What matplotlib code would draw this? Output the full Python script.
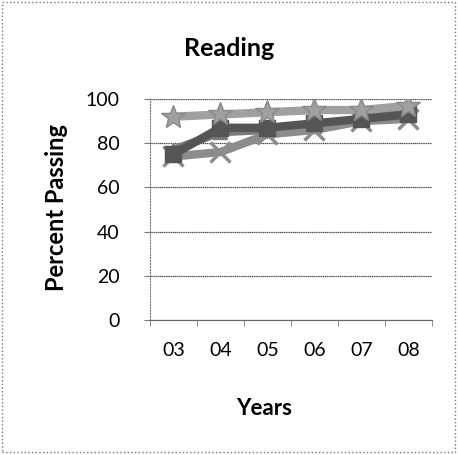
import matplotlib.pyplot as plt
from matplotlib.patches import Rectangle

plt.rcParams['font.family'] = ['Lato', 'DejaVu Sans']

years = ["03", "04", "05", "06", "07", "08"]
s_star = [92, 93, 94, 95, 95, 97]
s_square = [75, 87, 87, 89, 91, 93]
s_cross = [74, 76, 84, 86, 90, 91]
s_other = [77, 85, 86, 88, 91, 94]

fig = plt.figure(figsize=(4.58, 4.55), dpi=100)
ax = fig.add_axes([0.3275, 0.2967, 0.6157, 0.4857])

x = range(len(years))
ax.plot(x, s_other, color="#7a7a7a", linewidth=6, marker="^", markersize=10)
ax.plot(x, s_cross, color="#8c8c8c", linewidth=6, marker="x", markersize=14, markeredgewidth=2.5)
ax.plot(x, s_square, color="#555555", linewidth=6, marker="s", markersize=12)
ax.plot(x, s_star, color="#a0a0a0", linewidth=6, marker="*", markersize=18,
        markeredgecolor="#888888")

ax.set_xlim(-0.5, 5.5)
ax.set_ylim(0, 100)
ax.set_yticks(range(0, 101, 20))
ax.set_xticks(x)
ax.set_xticklabels(years)
ax.set_xticks([i - 0.5 for i in range(7)], minor=True)
ax.tick_params(axis="x", which="major", length=0, pad=16, labelsize=14)
ax.tick_params(axis="x", which="minor", length=4, color="#777777")
ax.tick_params(axis="y", length=4, pad=18, labelsize=14, color="#777777")
ax.grid(axis="y", color="#444444", linewidth=0.9, linestyle=(0, (1, 0.5)))
ax.set_axisbelow(True)
for side in ["top", "right"]:
    ax.spines[side].set_visible(False)
ax.spines["left"].set_color("#777777")
ax.spines["left"].set_linestyle(":")
ax.spines["bottom"].set_color("#666666")

fig.text(0.5, 0.893, "Reading", ha="center", va="center", fontsize=18, fontweight="bold")
fig.text(0.124, 0.545, "Percent Passing", ha="center", va="center", rotation=90,
         fontsize=17, fontweight="bold")
fig.text(0.577, 0.103, "Years", ha="center", va="center", fontsize=16, fontweight="bold")

fig.patches.append(Rectangle((0.004, 0.006), 0.99, 0.99, transform=fig.transFigure,
                             fill=False, edgecolor="#777777", linestyle=":", linewidth=1))

plt.savefig("out.png", dpi=100)
